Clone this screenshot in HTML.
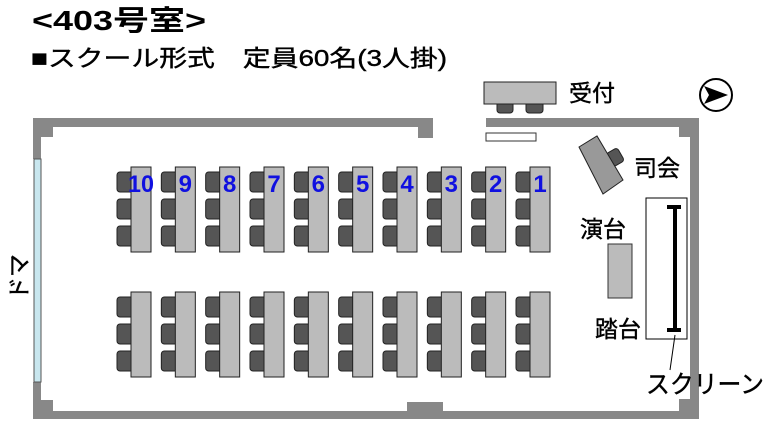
<!DOCTYPE html>
<html><head><meta charset="utf-8"><style>
html,body{margin:0;padding:0;background:#fff;width:767px;height:429px;overflow:hidden}
svg{display:block}
text{font-family:"Liberation Sans","Noto Sans CJK JP",sans-serif}
</style></head><body>
<svg width="767" height="429" viewBox="0 0 767 429" xmlns="http://www.w3.org/2000/svg">
<text x="32" y="30" font-size="28" font-weight="bold" fill="#000" textLength="174" lengthAdjust="spacingAndGlyphs">&lt;403号室&gt;</text>
<text x="31" y="66" font-size="23" fill="#000" stroke="#000" stroke-width="0.4" textLength="416" lengthAdjust="spacingAndGlyphs">■スクール形式　定員60名(3人掛)</text>
<!-- walls -->
<g fill="#888">
<rect x="33" y="118" width="400" height="9"/>
<rect x="418" y="118" width="15" height="20"/>
<rect x="486" y="118" width="213" height="9"/>
<rect x="690" y="118" width="9" height="301"/>
<rect x="679" y="127" width="11" height="10"/>
<rect x="33" y="411" width="666" height="8"/>
<rect x="407" y="402" width="36" height="10"/>
<rect x="679" y="399" width="11" height="13"/>
<rect x="33" y="118" width="8" height="41"/>
<rect x="33" y="382" width="8" height="37"/>
<rect x="41" y="127" width="12" height="10"/>
<rect x="41" y="400" width="12" height="12"/>
</g>
<rect x="34" y="159" width="7" height="223" fill="#c8e6ee" stroke="#555" stroke-width="1"/>
<text transform="translate(27,300) rotate(-90)" font-size="23" fill="#000" stroke="#000" stroke-width="0.4">ドマ</text>
<!-- desks -->
<g id="d">
<g fill="#555" stroke="#222" stroke-width="1">
<rect x="117" y="172" width="18" height="20" rx="3"/>
<rect x="117" y="199" width="18" height="20" rx="3"/>
<rect x="117" y="226" width="18" height="20" rx="3"/>
</g>
<rect x="131" y="167" width="20" height="85" fill="#bbb" stroke="#222" stroke-width="1"/>
</g>
<use href="#d" x="44.33"/><use href="#d" x="88.67"/><use href="#d" x="133"/><use href="#d" x="177.33"/><use href="#d" x="221.67"/><use href="#d" x="266"/><use href="#d" x="310.33"/><use href="#d" x="354.67"/><use href="#d" x="399"/>
<use href="#d" y="125"/><use href="#d" x="44.33" y="125"/><use href="#d" x="88.67" y="125"/><use href="#d" x="133" y="125"/><use href="#d" x="177.33" y="125"/><use href="#d" x="221.67" y="125"/><use href="#d" x="266" y="125"/><use href="#d" x="310.33" y="125"/><use href="#d" x="354.67" y="125"/><use href="#d" x="399" y="125"/>
<g fill="#1010e0" font-size="24" font-weight="bold" text-anchor="middle">
<text x="141" y="192" textLength="26" lengthAdjust="spacingAndGlyphs">10</text><text x="185.3" y="192">9</text><text x="229.7" y="192">8</text><text x="274" y="192">7</text><text x="318.3" y="192">6</text><text x="362.7" y="192">5</text><text x="407" y="192">4</text><text x="451.3" y="192">3</text><text x="495.7" y="192">2</text><text x="540" y="192">1</text>
</g>
<!-- reception -->
<rect x="497" y="101" width="16" height="12" rx="3" fill="#555" stroke="#222"/>
<rect x="526" y="101" width="17" height="12" rx="3" fill="#555" stroke="#222"/>
<rect x="484" y="82" width="72" height="22" fill="#bbb" stroke="#222"/>
<text x="569" y="101" font-size="23" stroke="#000" stroke-width="0.4">受付</text>
<rect x="486" y="133" width="50" height="8" fill="#fff" stroke="#333"/>
<circle cx="716" cy="95" r="16" fill="#fff" stroke="#000" stroke-width="2"/>
<path d="M704 86 L728 95 L704 104 L709 95 Z" fill="#000"/>
<!-- MC -->
<rect x="609" y="150" width="13" height="15" rx="3" fill="#555" stroke="#222" transform="rotate(-30 615 158)"/>
<polygon points="579,147 597,136 623,180 603,194" fill="#999" stroke="#222"/>
<text x="634" y="176" font-size="23" stroke="#000" stroke-width="0.4">司会</text>
<text x="580" y="237" font-size="23" stroke="#000" stroke-width="0.4">演台</text>
<rect x="608" y="244" width="24" height="54" fill="#bbb" stroke="#333"/>
<rect x="646" y="198" width="41" height="141" fill="#fff" stroke="#000"/>
<rect x="673" y="205" width="4" height="127" fill="#000"/>
<rect x="667" y="205" width="14" height="4" fill="#000"/>
<rect x="667" y="328" width="14" height="4" fill="#000"/>
<line x1="675" y1="335" x2="670" y2="370" stroke="#000" stroke-width="1"/>
<text x="595" y="337" font-size="23" stroke="#000" stroke-width="0.4">踏台</text>
<text x="646" y="393" font-size="25" stroke="#000" stroke-width="0.4" textLength="118" lengthAdjust="spacingAndGlyphs">スクリーン</text>
</svg>
</body></html>
